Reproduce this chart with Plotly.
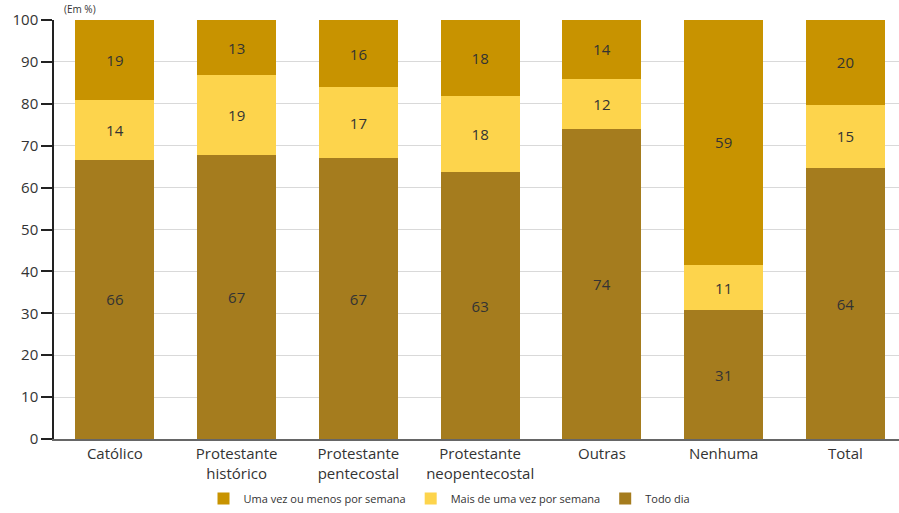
import plotly.graph_objects as go

categorias = ["Católico", "Protestante<br>histórico", "Protestante<br>pentecostal",
              "Protestante<br>neopentecostal", "Outras", "Nenhuma", "Total"]
todo_dia = [66, 67, 67, 63, 74, 31, 64]
mais_de_uma_vez = [14, 19, 17, 18, 12, 11, 15]
uma_vez_ou_menos = [19, 13, 16, 18, 14, 59, 20]

series = [
    ("Todo dia", todo_dia, "#A57C1E"),
    ("Mais de uma vez por semana", mais_de_uma_vez, "#FDD44C"),
    ("Uma vez ou menos por semana", uma_vez_ou_menos, "#C89300"),
]

FONT = "Open Sans"
TXT = "#333333"

fig = go.Figure()
for nome, valores, cor in series:
    fig.add_trace(go.Bar(
        x=categorias, y=valores, name=nome,
        marker=dict(color=cor, line=dict(width=0)),
        text=[str(v) for v in valores],
        texttemplate="%{text}",
        textposition="inside", insidetextanchor="middle", textangle=0,
        textfont=dict(family=FONT, size=15, color=TXT),
        constraintext="none",
        width=0.65,
    ))

fig.update_layout(
    barmode="stack", barnorm="percent",
    width=899, height=513,
    margin=dict(l=54, r=0, t=20, b=74),
    plot_bgcolor="white", paper_bgcolor="white",
    font=dict(family=FONT, color=TXT),
    uniformtext=dict(minsize=15, mode="show"),
    showlegend=True,
    legend=dict(orientation="h", traceorder="reversed",
                x=0.5, xanchor="center", xref="container",
                y=0.0, yanchor="bottom", yref="container",
                font=dict(family=FONT, size=11, color=TXT),
                itemwidth=30, itemsizing="constant"),
    annotations=[dict(text="(Em %)", xref="paper", yref="paper",
                      x=0.01, y=1.0, xanchor="left", yanchor="bottom", yshift=2,
                      showarrow=False, font=dict(family=FONT, size=10, color=TXT))],
)

fig.update_xaxes(
    range=[-0.5, 6.44], showgrid=False,
    showline=True, linecolor="#666666", linewidth=2,
    ticks="", tickfont=dict(family=FONT, size=15, color=TXT),
)
fig.update_yaxes(
    range=[0, 100], dtick=10, showgrid=True, gridcolor="#D9D9D9", gridwidth=1,
    showline=True, linecolor="#222222", linewidth=1.5,
    ticks="outside", ticklen=11, tickcolor="#222222", tickwidth=1.5,
    tickfont=dict(family=FONT, size=15, color=TXT),
    zeroline=False,
)

fig.write_html("out.html")
